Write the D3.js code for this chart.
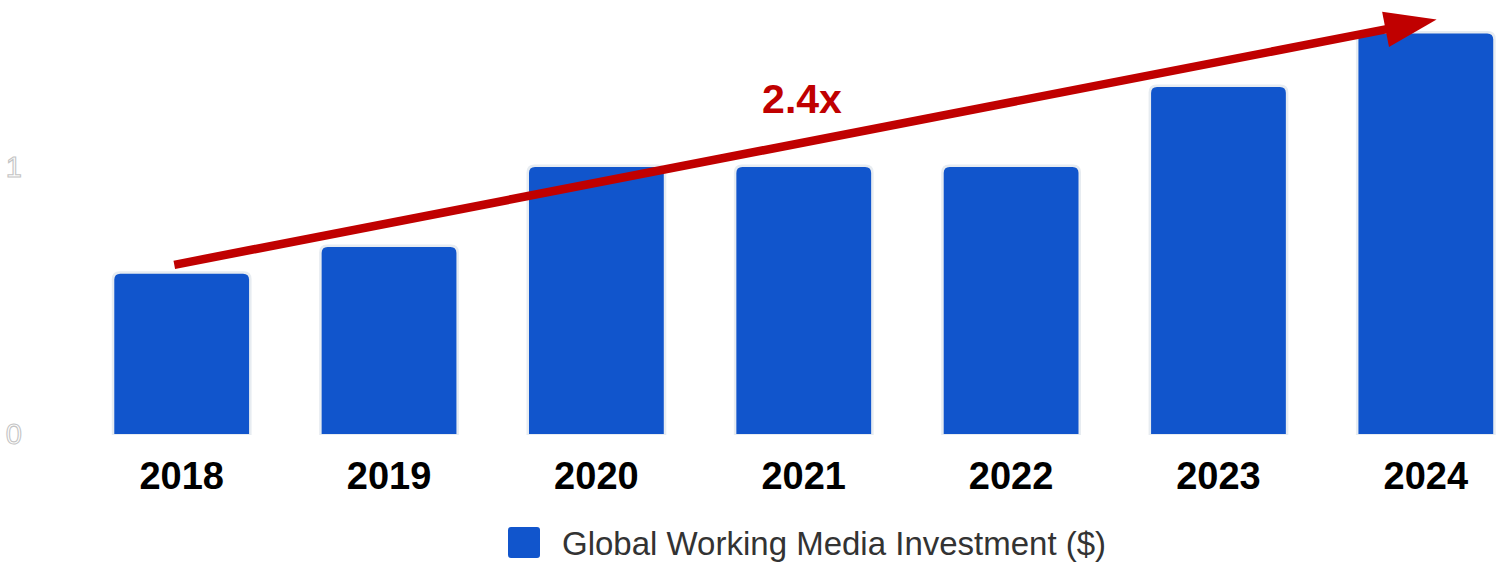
<!DOCTYPE html>
<html>
<head>
<meta charset="utf-8">
<script src="https://cdn.jsdelivr.net/npm/d3@7"></script>
<style>
  html, body { margin: 0; padding: 0; background: #ffffff; }
  svg { display: block; }
</style>
</head>
<body>
<svg id="chart" width="1498" height="562"></svg>
<script>
// Yearly global working media investment (relative units)
const years = ["2018", "2019", "2020", "2021", "2022", "2023", "2024"];
const investment = [0.6, 0.7, 1.0, 1.0, 1.0, 1.3, 1.5];
const yTicks = [0, 1];
const seriesName = "Global Working Media Investment ($)";
const growthLabel = "2.4x";

const W = 1498, H = 562;
const svg = d3.select("#chart");

const x = d3.scaleBand()
  .domain(years)
  .range([78, 1529.5])
  .paddingInner(0.35)
  .paddingOuter(0.175);

const y = d3.scaleLinear()
  .domain([0, 1])
  .range([434, 167]);

const barColor = "#1155cc";
const accent = "#c00000";

// y-axis tick labels (white glyphs with a faint outline)
svg.append("g")
  .selectAll("text")
  .data(yTicks)
  .join("text")
  .attr("x", 22)
  .attr("y", d => y(d))
  .attr("dy", "0.36em")
  .attr("text-anchor", "end")
  .attr("font-family", "Liberation Sans, Arial, sans-serif")
  .attr("font-size", 29)
  .attr("fill", "#ffffff")
  .attr("stroke", "#c4c4c4")
  .attr("stroke-width", 1.1)
  .text(d => d);

// path for a bar with rounded top corners
function topRounded(x0, y0, w, h, r) {
  r = Math.min(r, w / 2, h);
  return `M${x0},${y0 + h}` +
    `V${y0 + r}` +
    `Q${x0},${y0} ${x0 + r},${y0}` +
    `H${x0 + w - r}` +
    `Q${x0 + w},${y0} ${x0 + w},${y0 + r}` +
    `V${y0 + h}Z`;
}

const bars = svg.append("g");
const data = years.map((yr, i) => ({ year: yr, value: investment[i] }));

// light halo behind each bar
bars.selectAll("path.halo")
  .data(data)
  .join("path")
  .attr("class", "halo")
  .attr("d", d => topRounded(x(d.year) - 2.5, y(d.value) - 2.5,
                             x.bandwidth() + 5, y(0) - y(d.value) + 3.5, 8))
  .attr("fill", "#e7ecf1");

bars.selectAll("path.bar")
  .data(data)
  .join("path")
  .attr("class", "bar")
  .attr("d", d => topRounded(x(d.year), y(d.value),
                             x.bandwidth(), y(0) - y(d.value), 6))
  .attr("fill", barColor);

// year labels
svg.append("g")
  .selectAll("text")
  .data(years)
  .join("text")
  .attr("x", d => x(d) + x.bandwidth() / 2)
  .attr("y", 489)
  .attr("text-anchor", "middle")
  .attr("font-family", "Liberation Sans, Arial, sans-serif")
  .attr("font-weight", "bold")
  .attr("font-size", 38)
  .attr("fill", "#000000")
  .text(d => d);

// growth arrow from the first bar to the last
const first = data[0], last = data[data.length - 1];
const S = [x(first.year) + 60, y(first.value) - 9];
const T = [x(last.year) + x.bandwidth() * 0.58, y(last.value) - 14];
const dx = T[0] - S[0], dy = T[1] - S[1];
const len = Math.hypot(dx, dy);
const ux = dx / len, uy = dy / len;
const headLen = 52, headHalf = 18;
const B = [T[0] - ux * headLen, T[1] - uy * headLen];
const nx = -uy, ny = ux;

const arrow = svg.append("g");
arrow.append("line")
  .attr("x1", S[0]).attr("y1", S[1])
  .attr("x2", B[0] + ux * 4).attr("y2", B[1] + uy * 4)
  .attr("stroke", accent)
  .attr("stroke-width", 8.5);
arrow.append("path")
  .attr("d", d3.line()([
    T,
    [B[0] + nx * headHalf, B[1] + ny * headHalf],
    [B[0] - nx * headHalf, B[1] - ny * headHalf]
  ]) + "Z")
  .attr("fill", accent);

svg.append("text")
  .attr("x", 802)
  .attr("y", 113)
  .attr("text-anchor", "middle")
  .attr("font-family", "Liberation Sans, Arial, sans-serif")
  .attr("font-weight", "bold")
  .attr("font-size", 41)
  .attr("fill", accent)
  .text(growthLabel);

// legend
const legend = svg.append("g");
legend.append("rect")
  .attr("x", 508).attr("y", 527)
  .attr("width", 32).attr("height", 31)
  .attr("rx", 3)
  .attr("fill", barColor);
legend.append("text")
  .attr("x", 562)
  .attr("y", 555)
  .attr("font-family", "Liberation Sans, Arial, sans-serif")
  .attr("font-size", 33)
  .attr("fill", "#333333")
  .text(seriesName);
</script>
</body>
</html>
